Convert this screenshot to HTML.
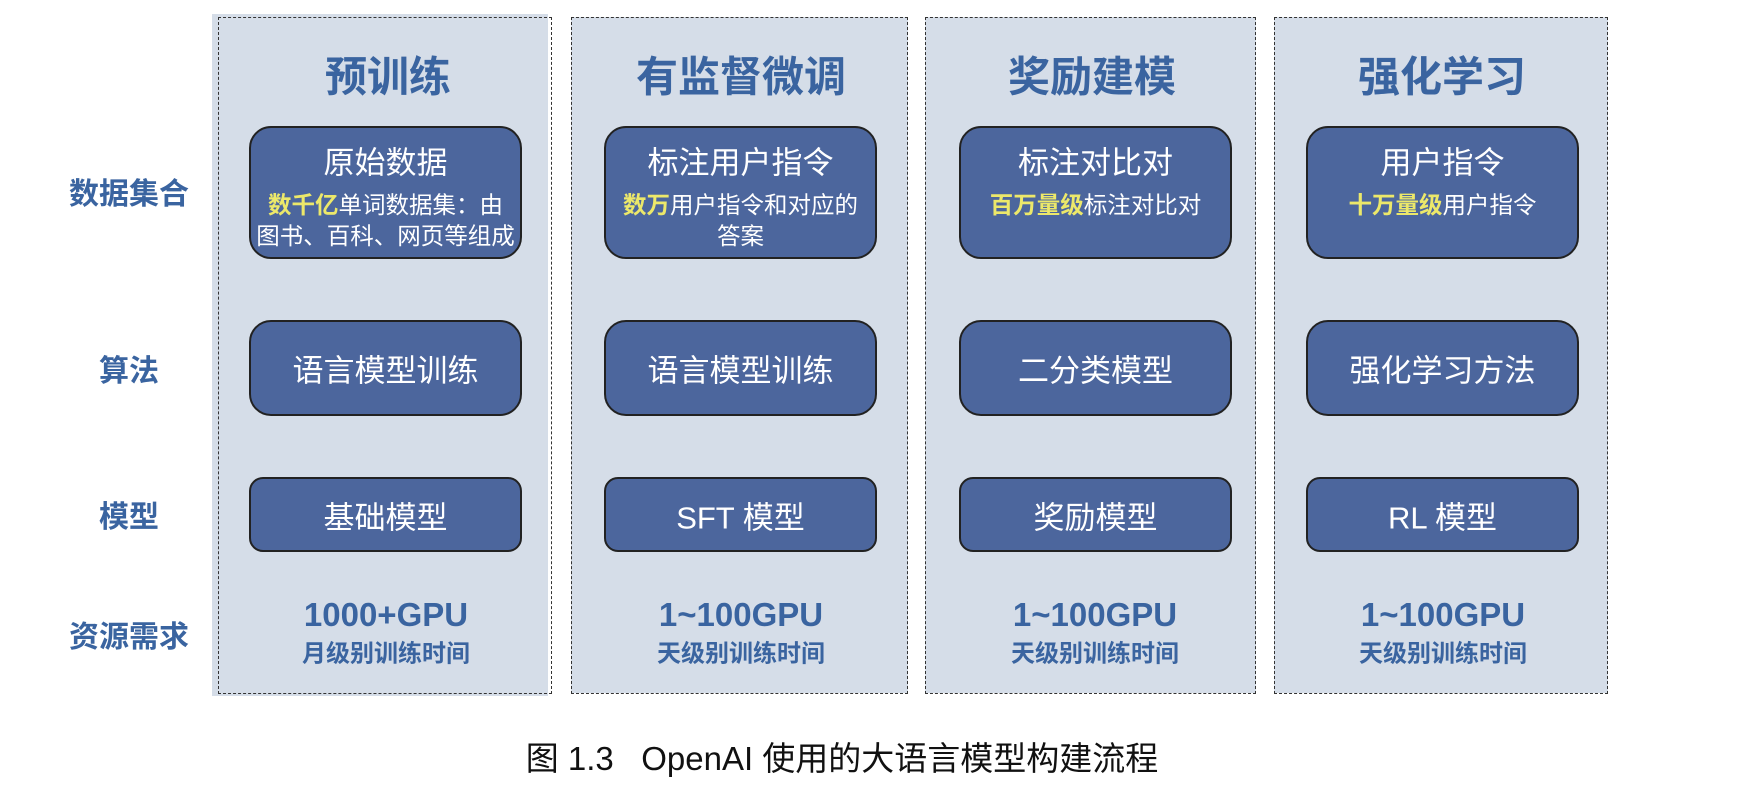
<!DOCTYPE html>
<html><head><meta charset="utf-8"><style>
body{margin:0;width:1750px;height:786px;background:#fff;position:relative;overflow:hidden;font-family:"Liberation Sans","Noto Sans CJK SC",sans-serif}
.bg{position:absolute;background:#d5dde8}
.dash{position:absolute;border:1.5px dashed #333;box-sizing:border-box}
.t{position:absolute;text-align:center;white-space:nowrap;transform:translate(-50%,-50%)}
.title{font-size:42px;font-weight:bold;color:#3a64a0}
.lab{font-size:30px;font-weight:bold;color:#3a64a0}
.box{position:absolute;background:#4c669d;border:2px solid #222;box-sizing:border-box;border-radius:22px;color:#fff;text-align:center}
.gpu{font-size:33px;font-weight:bold;color:#3a64a0}
.sub{font-size:24px;font-weight:bold;color:#3a64a0}
.y{color:#ece86a;font-weight:bold}
.bt{font-size:31px;position:absolute;left:0;right:0;transform:translateY(-50%)}
.bs{font-size:23.5px;position:absolute;left:-4px;right:-4px;line-height:31px;white-space:nowrap}
</style></head><body>
<div class="bg" style="left:212px;top:14px;width:336px;height:682px"></div>
<div class="bg" style="left:571px;top:17px;width:337px;height:676px"></div>
<div class="bg" style="left:925px;top:17px;width:331px;height:676px"></div>
<div class="bg" style="left:1274px;top:17px;width:334px;height:676px"></div>
<div class="dash" style="left:218px;top:17px;width:334px;height:677px"></div>
<div class="dash" style="left:571px;top:17px;width:337px;height:677px"></div>
<div class="dash" style="left:925px;top:17px;width:331px;height:677px"></div>
<div class="dash" style="left:1274px;top:17px;width:334px;height:677px"></div>

<div class="t lab" style="left:129px;top:191px">数据集合</div>
<div class="t lab" style="left:129px;top:368px">算法</div>
<div class="t lab" style="left:129px;top:514px">模型</div>
<div class="t lab" style="left:129px;top:634px">资源需求</div>

<div class="t title" style="left:388px;top:74px">预训练</div>
<div class="t title" style="left:741px;top:74px">有监督微调</div>
<div class="t title" style="left:1092px;top:74px">奖励建模</div>
<div class="t title" style="left:1442px;top:74px">强化学习</div>

<div class="box" style="left:249px;top:126px;width:273px;height:133px">
<div class="bt" style="top:32px">原始数据</div>
<div class="bs" style="top:62px"><span class="y">数千亿</span>单词数据集：由<br>图书、百科、网页等组成</div></div>
<div class="box" style="left:604px;top:126px;width:273px;height:133px">
<div class="bt" style="top:32px">标注用户指令</div>
<div class="bs" style="top:62px"><span class="y">数万</span>用户指令和对应的<br>答案</div></div>
<div class="box" style="left:959px;top:126px;width:273px;height:133px">
<div class="bt" style="top:32px">标注对比对</div>
<div class="bs" style="top:62px"><span class="y">百万量级</span>标注对比对</div></div>
<div class="box" style="left:1306px;top:126px;width:273px;height:133px">
<div class="bt" style="top:32px">用户指令</div>
<div class="bs" style="top:62px"><span class="y">十万量级</span>用户指令</div></div>

<div class="box" style="left:249px;top:320px;width:273px;height:96px"><div class="bt" style="top:46px">语言模型训练</div></div>
<div class="box" style="left:604px;top:320px;width:273px;height:96px"><div class="bt" style="top:46px">语言模型训练</div></div>
<div class="box" style="left:959px;top:320px;width:273px;height:96px"><div class="bt" style="top:46px">二分类模型</div></div>
<div class="box" style="left:1306px;top:320px;width:273px;height:96px"><div class="bt" style="top:46px">强化学习方法</div></div>

<div class="box" style="left:249px;top:477px;width:273px;height:75px;border-radius:14px"><div class="bt" style="top:36px">基础模型</div></div>
<div class="box" style="left:604px;top:477px;width:273px;height:75px;border-radius:14px"><div class="bt" style="top:36px">SFT 模型</div></div>
<div class="box" style="left:959px;top:477px;width:273px;height:75px;border-radius:14px"><div class="bt" style="top:36px">奖励模型</div></div>
<div class="box" style="left:1306px;top:477px;width:273px;height:75px;border-radius:14px"><div class="bt" style="top:36px">RL 模型</div></div>

<div class="t gpu" style="left:386px;top:615px">1000+GPU</div>
<div class="t sub" style="left:386px;top:651px">月级别训练时间</div>
<div class="t gpu" style="left:741px;top:615px">1~100GPU</div>
<div class="t sub" style="left:741px;top:651px">天级别训练时间</div>
<div class="t gpu" style="left:1095px;top:615px">1~100GPU</div>
<div class="t sub" style="left:1095px;top:651px">天级别训练时间</div>
<div class="t gpu" style="left:1443px;top:615px">1~100GPU</div>
<div class="t sub" style="left:1443px;top:651px">天级别训练时间</div>

<div class="t" style="left:842px;top:756px;font-size:33px;color:#111">图 1.3&nbsp;&nbsp;&nbsp;OpenAI 使用的大语言模型构建流程</div>
</body></html>
